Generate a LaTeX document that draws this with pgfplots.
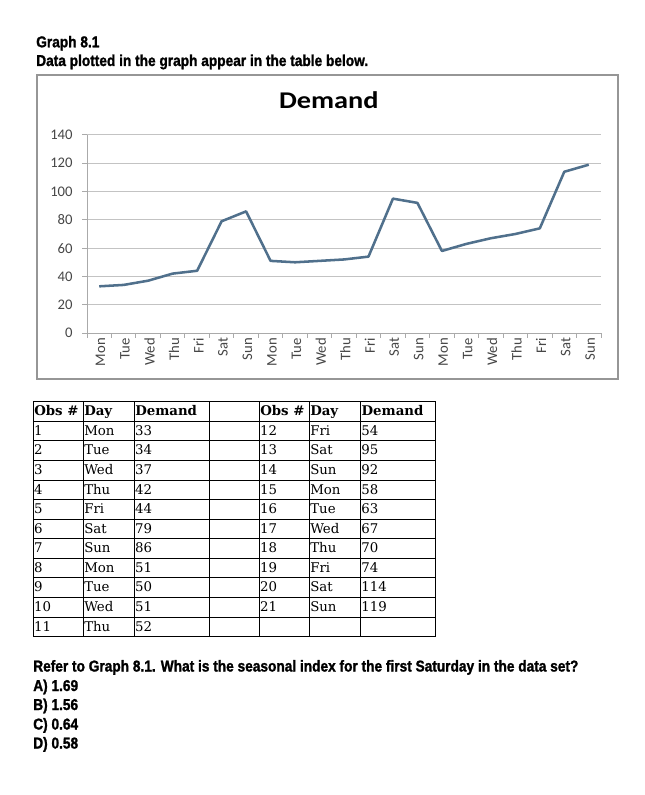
\documentclass[border=0pt]{standalone}
\usepackage{fontspec}
\usepackage{graphicx}
\usepackage{pgfplots}
\pgfplotsset{compat=1.18}
\setmainfont{Liberation Sans}
\newfontfamily\tickfont{Carlito}
\newfontfamily\tabfont{DejaVu Serif}
\newfontfamily\impact[FakeStretch=0.87,FakeBold=1.4]{Liberation Sans Bold}
\definecolor{linecol}{RGB}{80,112,140}
\definecolor{gridgray}{RGB}{195,195,195}
\definecolor{axisgray}{RGB}{170,170,170}
\definecolor{labelgray}{RGB}{70,70,70}
\definecolor{framegray}{RGB}{150,150,150}
\begin{document}
\begin{tikzpicture}
\begin{scope}[x=0.75pt,y=-0.75pt]
\path[use as bounding box] (0,0) rectangle (644,795);
% header text
\node[anchor=base west,inner sep=0pt] at (36,47.3) {\impact\fontsize{11.8}{12}\selectfont Graph 8.1};
\node[anchor=base west,inner sep=0pt] at (36,66) {\impact\fontsize{11.8}{12}\selectfont Data plotted in the graph appear in the table below.};
% chart frame
\draw[framegray,line width=1.1pt] (37,75) rectangle (618,379);
\node[anchor=base,inner sep=0pt] at (328.8,108.3) {\tickfont\bfseries\fontsize{18}{20}\selectfont\scalebox{1.18}[1]{Demand}};
% table
\foreach \x in {33.3,83.3,134.3,209.3,259.3,309.3,360.7,435.7}
  \draw[black,line width=0.8pt] (\x,401.7) -- (\x,636.7);
\foreach \i in {0,...,12}
  \draw[black,line width=0.8pt] (33.3,401.7+\i*19.583) -- (435.7,401.7+\i*19.583);
\def\tab#1#2#3{\node[anchor=base west,inner sep=0pt] at (#1,401.7+#2*19.583+14) {\tabfont\fontsize{10}{10}\selectfont #3};}
\tab{34}{0}{\bfseries Obs \#}\tab{84}{0}{\bfseries Day}\tab{135}{0}{\bfseries Demand}
\tab{260}{0}{\bfseries Obs \#}\tab{310}{0}{\bfseries Day}\tab{361.4}{0}{\bfseries Demand}
\foreach \n/\d/\v [count=\r] in {1/Mon/33,2/Tue/34,3/Wed/37,4/Thu/42,5/Fri/44,6/Sat/79,7/Sun/86,8/Mon/51,9/Tue/50,10/Wed/51,11/Thu/52}{
  \tab{33.8}{\r}{\n}\tab{84}{\r}{\d}\tab{134.8}{\r}{\v}}
\foreach \n/\d/\v [count=\r] in {12/Fri/54,13/Sat/95,14/Sun/92,15/Mon/58,16/Tue/63,17/Wed/67,18/Thu/70,19/Fri/74,20/Sat/114,21/Sun/119}{
  \tab{259.8}{\r}{\n}\tab{310}{\r}{\d}\tab{361.2}{\r}{\v}}
% question
\node[anchor=base west,inner sep=0pt] at (33,671.5) {\impact\fontsize{11.8}{13}\selectfont Refer to Graph 8.1. What is the seasonal index for the first Saturday in the data set?};
\node[anchor=base west,inner sep=0pt] at (33,691) {\impact\fontsize{11.8}{13}\selectfont A) 1.69};
\node[anchor=base west,inner sep=0pt] at (33,710) {\impact\fontsize{11.8}{13}\selectfont B) 1.56};
\node[anchor=base west,inner sep=0pt] at (33,729.5) {\impact\fontsize{11.8}{13}\selectfont C) 0.64};
\node[anchor=base west,inner sep=0pt] at (33,748.5) {\impact\fontsize{11.8}{13}\selectfont D) 0.58};
\end{scope}
\begin{axis}[
  at={(65.25pt,-249.75pt)}, anchor=south west,
  scale only axis, width=385.5pt, height=148.5pt,
  xmin=-0.5, xmax=20.5, ymin=0, ymax=140,
  ytick={0,20,...,140},
  xtick={-0.5,0.5,...,20.5},
  x tick label as interval,
  xticklabels={Mon,Tue,Wed,Thu,Fri,Sat,Sun,Mon,Tue,Wed,Thu,Fri,Sat,Sun,Mon,Tue,Wed,Thu,Fri,Sat,Sun},
  axis x line*=bottom, axis y line*=left,
  axis line style={draw=axisgray,line width=0.75pt},
  ymajorgrids, grid style={draw=gridgray,line width=0.75pt},
  tick align=outside, major tick length=3.6pt,
  tick style={draw=axisgray,line width=0.75pt},
  /pgf/number format/assume math mode=true,
  ticklabel style={font=\tickfont\fontsize{11}{11}\selectfont, text=labelgray},
  xticklabel style={rotate=90, anchor=east, inner sep=0pt, yshift=-1pt},
  yticklabel style={anchor=east, inner sep=0pt, xshift=-7pt},
]
\addplot[linecol, line width=1.9pt, line join=round, mark=none] coordinates {
(0,33) (1,34) (2,37) (3,42) (4,44) (5,79) (6,86) (7,51) (8,50) (9,51) (10,52)
(11,54) (12,95) (13,92) (14,58) (15,63) (16,67) (17,70) (18,74) (19,114) (20,119)};
\end{axis}
\end{tikzpicture}
\end{document}
